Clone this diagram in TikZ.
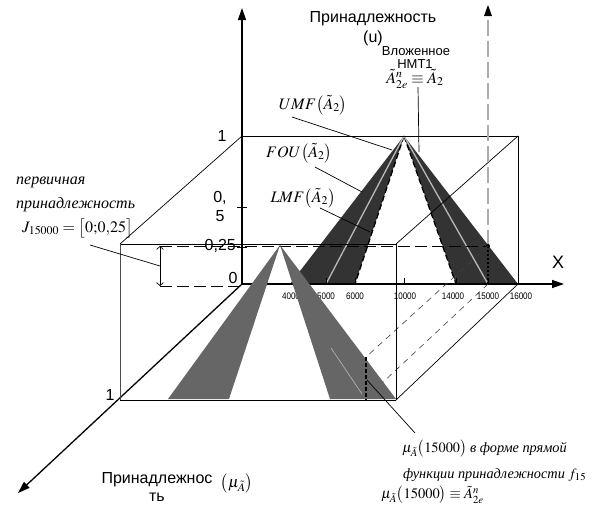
\documentclass[tikz,border=0pt]{standalone}
\usepackage{mathptmx}
\usepackage{fontspec}
\setmainfont{Liberation Serif}
\setsansfont{Liberation Sans}
\usetikzlibrary{arrows.meta}
\definecolor{dk}{gray}{0.2}
\definecolor{md}{gray}{0.4}
\definecolor{lt}{gray}{0.72}
\definecolor{axg}{gray}{0.68}
\begin{document}
\begin{tikzpicture}[x=1pt,y=-1pt,
  axis/.style={line width=1.3pt,-{Triangle[length=12pt,width=8pt]}},
  boxline/.style={line width=0.7pt},
  sans/.style={font=\sffamily\fontsize{16}{18}\selectfont,inner sep=0pt},
  sanssm/.style={font=\sffamily\fontsize{13}{15}\selectfont,inner sep=0pt},
  ticklab/.style={font=\sffamily\fontsize{9.5}{11}\selectfont,inner sep=0pt,xscale=0.85},
  serif/.style={font=\fontsize{16}{18}\selectfont,inner sep=0pt},
  serifsm/.style={font=\fontsize{14.5}{17}\selectfont,inner sep=0pt},
  ital/.style={font=\itshape\fontsize{16}{18}\selectfont,inner sep=0pt},
  italsm/.style={font=\itshape\fontsize{14.3}{17}\selectfont,inner sep=0pt},
  pointer/.style={line width=0.7pt},
  lvl/.style={line width=1pt,dash pattern=on 12pt off 5pt},
  proj/.style={line width=0.6pt,dash pattern=on 6pt off 5pt,black!75},
  fou/.style={fill=dk,draw=none},
  frontfs/.style={fill=md,draw=none},
  emb/.style={lt,line width=1.3pt},
  lmf/.style={line width=1.3pt,dash pattern=on 6pt off 3pt},
  tick/.style={line width=0.8pt},
]
\useasboundingbox (0,0) rectangle (594,504);
% coordinates
\coordinate (O) at (242,284);
\coordinate (BTL) at (242,136);
\coordinate (BTR) at (518,136);
\coordinate (BBR) at (518,284);
\coordinate (FTL) at (120,244);
\coordinate (FTR) at (396,244);
\coordinate (FBR) at (396,400);
\coordinate (FBL) at (120,400);
\coordinate (Ytip) at (242,8);
\coordinate (Xtip) at (564,284);
\coordinate (Ztip) at (18,493);
\coordinate (Ap2) at (404,136);
\coordinate (Ap1) at (280,245);
\coordinate (U1) at (290,284);
\coordinate (L1) at (355,284);
\coordinate (L2) at (456,284);
\coordinate (E1) at (326,284);
\coordinate (E2) at (488,284);
\coordinate (P25) at (488,246);
\coordinate (Q25) at (366,357);
\coordinate (Q0) at (366,398);
\coordinate (Q0b) at (366,401);
\coordinate (G1) at (168,399);
\coordinate (G2) at (229,399);
\coordinate (G3) at (330,399);
\coordinate (G4) at (396,399);
\coordinate (J1) at (160,246);
\coordinate (J0) at (160,286);
\coordinate (J0e) at (242,286);
\coordinate (Vtop) at (488,12);

% back FOU (dark)
\fill[fou] (Ap2) -- (U1) -- (L1) -- cycle;
\fill[fou] (Ap2) -- (L2) -- (BBR) -- cycle;
\draw[lmf] (Ap2) -- (L1);
\draw[lmf] (Ap2) -- (L2);
\draw[emb] (Ap2) -- (E1);
\draw[emb] (Ap2) -- (E2);

% back box
\draw[boxline] (BTL) -- (BTR) -- (BBR);
\draw[boxline] (FTL) -- (BTL);
\draw[boxline] (FTR) -- (BTR);
\draw[boxline] (FBR) -- (BBR);

% gray dashed vertical at 15000
\draw[axg,line width=1.3pt,dash pattern=on 16pt off 5pt] (P25) -- (Vtop);
\fill (488,5) -- (484,16) -- (492,16) -- cycle;

% axes
\draw[axis] (O) -- (Ytip);
\draw[axis] (O) -- (Xtip);
\draw[axis] (O) -- (Ztip);

% ticks on vertical axis
\draw[tick] (237,207) -- (247,207);
\draw[tick] (237,247) -- (247,247);
% ticks on X axis
\foreach \xx in {292,326,355,404,456,488,518}
  \draw[tick] (\xx,284) -- (\xx,278);

% tick labels
\node[ticklab] (l4) at (291,296) {4000};
\node[ticklab] (l5) at (326,296) {5000};
\node[ticklab] (l6) at (355,296) {6000};
\node[ticklab] (l10) at (405,296) {10000};
\node[ticklab] (l14) at (453,296) {14000};
\node[ticklab] (l15) at (488,296) {15000};
\node[ticklab] (l16) at (521,296) {16000};

% level 0.25 and dotted verticals
\draw[lvl] (J1) -- (P25);
\draw[lvl] (J0) -- (J0e);
\draw[line width=0.7pt,{Straight Barb[length=3pt,width=7pt]}-{Straight Barb[length=3pt,width=7pt]}] (J1) -- (J0);
\draw[line width=1.2pt,dash pattern=on 2pt off 2pt] (P25) -- (E2);
\fill (P25) circle (2pt);
\draw[proj] (P25) -- (Q25);
\draw[proj] (E2) -- (Q0);

% front FS (gray)
\fill[frontfs] (Ap1) -- (G1) -- (G2) -- cycle;
\fill[frontfs] (Ap1) -- (G3) -- (G4) -- cycle;
\draw[lt,line width=0.6pt] (331,348) -- (362,394);
\draw[line width=2.2pt,dash pattern=on 4pt off 2pt] (Q25) -- (Q0b);

% front box
\draw[boxline] (FTL) -- (FTR) -- (FBR);
\draw[line width=0.9pt] (FBR) -- (FBL);
\draw[line width=0.5pt,black!70] (FBL) -- (FTL);

% axis labels
\node[sans] (t1) at (222,136) {1};
\node[sans] (t05a) at (220,198) {0,};
\node[sans] (t05b) at (220,216) {5};
\node[sans,anchor=east] (t025) at (236,246) {0,25};
\node[sans] (t0) at (233,278) {0};
\node[font=\sffamily\fontsize{18}{20}\selectfont,inner sep=0pt] (tX) at (558,262) {X};
\node[sans] (t1z) at (110,395) {1};

% top labels
\node[sans] (tPrin) at (373,19) {Принадлежность};
\node[sans] (tU) at (373,38) {(u)};
\node[sanssm] (tVl) at (416,51) {Вложенное};
\node[sanssm] (tNMT) at (415,64) {НМТ1};
\node[serif] (tA2e) at (415,79) {$\tilde{A}^{n}_{2e}\equiv\tilde{A}_{2}$};
\coordinate (pN1) at (418,87);
\coordinate (pN2) at (419,152);
\draw[pointer] (pN1) -- (pN2);

\node[serif] (tUMF) at (313,105) {$UMF\bigl(\tilde{A}_{2}\bigr)$};
\node[serif] (tFOU) at (299,153) {$FOU\bigl(\tilde{A}_{2}\bigr)$};
\node[serif] (tLMF) at (303,198) {$LMF\bigl(\tilde{A}_{2}\bigr)$};
\coordinate (pU1) at (292,117); \coordinate (pU2) at (392,150);
\coordinate (pF1) at (315,167); \coordinate (pF2) at (362,192);
\coordinate (pL1) at (320,208); \coordinate (pL2) at (370,232);
\draw[pointer] (pU1) -- (pU2);
\draw[pointer] (pF1) -- (pF2);
\draw[pointer] (pL1) -- (pL2);

% left labels
\node[ital,anchor=west] (tPerv) at (16,182) {первичная};
\node[ital,anchor=west] (tPrin2) at (16,205) {принадлежность};
\node[serif,anchor=west] (tJ) at (22,228) {$J_{15000}=\bigl[0{;}0{,}25\bigr]$};
\coordinate (pJ1) at (90,245); \coordinate (pJ2) at (160,266);
\draw[pointer] (pJ1) -- (pJ2);

% bottom labels
\node[sans] (tPz1) at (157,480) {Принадлежнос};
\node[sans] (tPz2) at (157,497) {ть};
\node[serif] (tMuA) at (237,483) {$\bigl(\mu_{\tilde{A}}\bigr)$};

\node[italsm,anchor=west] (tMu1) at (402,449) {$\mu_{\tilde{A}}\bigl(15000\bigr)$ в форме прямой};
\node[italsm,anchor=west] (tMu2) at (403,475) {функции принадлежности $f_{15}$};
\node[serifsm,anchor=west] (tMu3) at (381,495) {$\mu_{\tilde{A}}\bigl(15000\bigr)\equiv\tilde{A}^{n}_{2e}$};
\coordinate (pM1) at (367,380); \coordinate (pM2) at (415,433);
\draw[pointer] (pM1) -- (pM2);
\end{tikzpicture}
\end{document}
